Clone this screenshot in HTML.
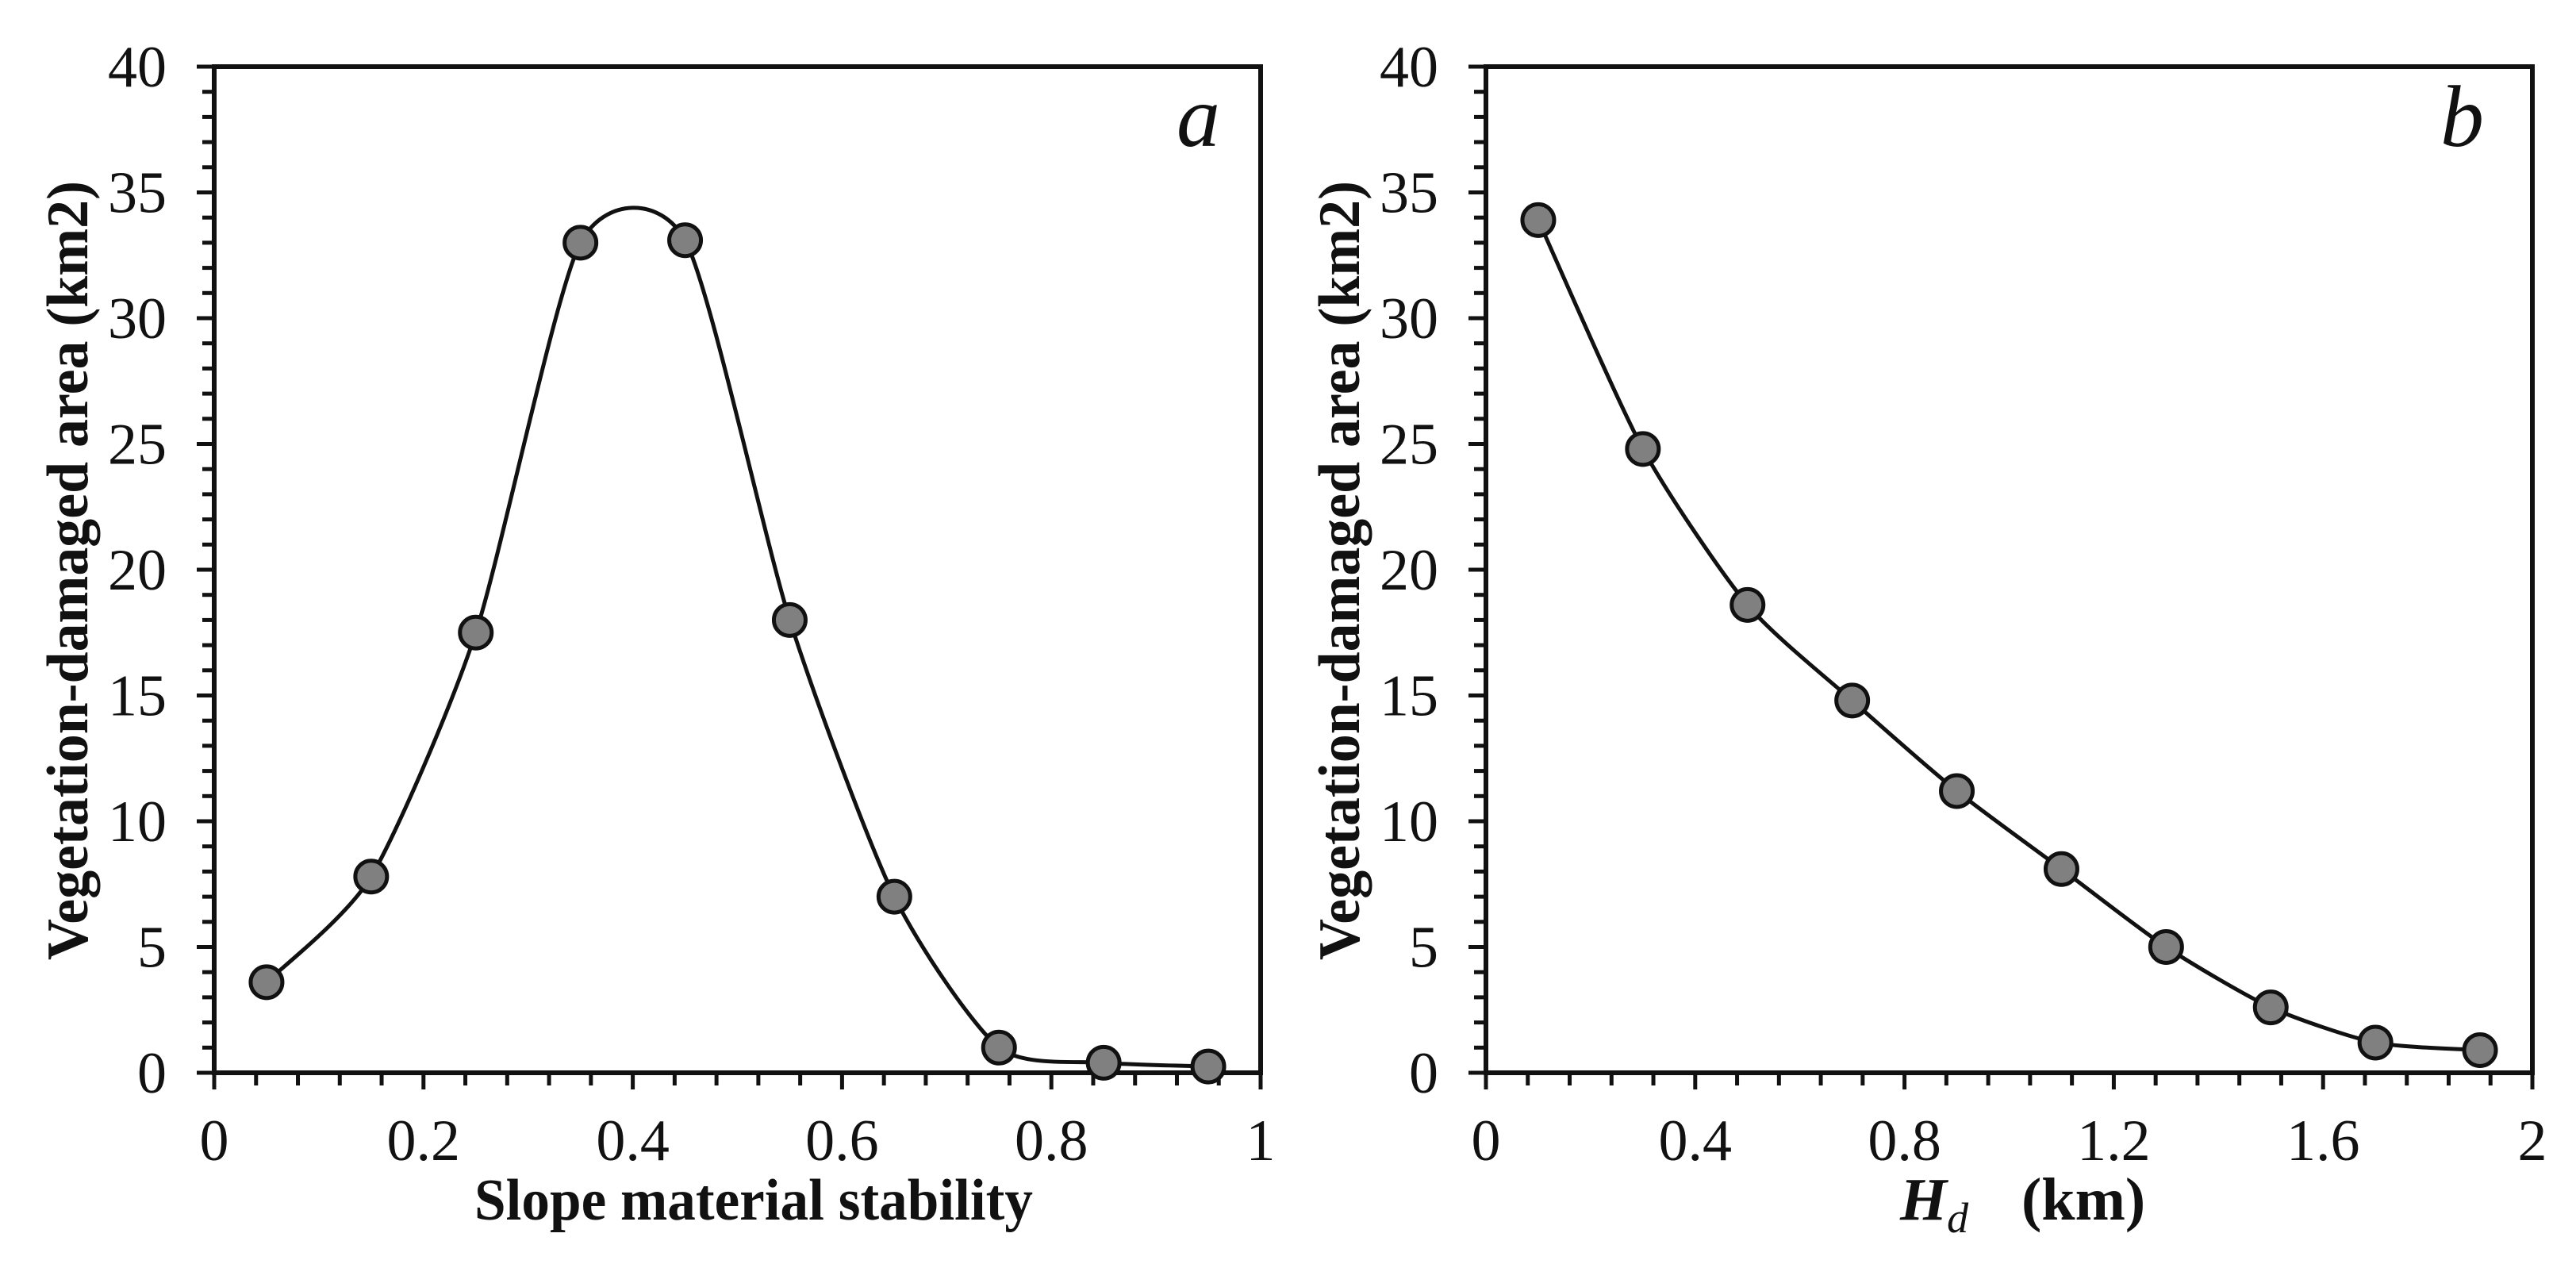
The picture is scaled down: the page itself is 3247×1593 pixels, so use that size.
<!DOCTYPE html>
<html><head><meta charset="utf-8"><style>
html,body{margin:0;padding:0;background:#fff;}
svg{display:block;}
text{font-family:"Liberation Serif",serif;fill:#111;}
</style></head><body>
<svg id="chart" width="3247" height="1593" viewBox="0 0 3247 1593" xmlns="http://www.w3.org/2000/svg"></svg>
<script>
const xsA = [0.05,0.15,0.25,0.35,0.45,0.55,0.65,0.75,0.85,0.95];
const ysA = [3.6,7.8,17.5,33.0,33.1,18.0,7.0,1.0,0.4,0.25];
const xsB = [0.1,0.3,0.5,0.7,0.9,1.1,1.3,1.5,1.7,1.9];
const ysB = [33.9,24.8,18.6,14.8,11.2,8.1,5.0,2.6,1.2,0.9];
const yTicks = [0,5,10,15,20,25,30,35,40];
const xTicksA = ["0","0.2","0.4","0.6","0.8","1"];
const xTicksB = ["0","0.4","0.8","1.2","1.6","2"];

const NS="http://www.w3.org/2000/svg";
const svg=document.getElementById('chart');
function mk(tag,attrs,parent){const e=document.createElementNS(NS,tag);for(const k in attrs)e.setAttribute(k,attrs[k]);(parent||svg).appendChild(e);return e;}

function panel(cfg){
  const g=mk('g',{});
  
  
  const L=cfg.left,R=cfg.right,T=84,B=1352;
  const sx=v=>L+(v-cfg.xmin)/(cfg.xmax-cfg.xmin)*(R-L);
  const sy=v=>B-v/40*(B-T);
  const fr=mk('rect',{x:L,y:T,width:R-L,height:B-T,fill:'none',stroke:'#111','stroke-width':6},g);
  
  
  for(let v=0;v<=40;v++){
    const major=v%5===0;
    const t=mk('line',{x1:L-(major?22:15),x2:L,y1:sy(v),y2:sy(v),stroke:'#111','stroke-width':5},g);
    
    
  }
  yTicks.forEach(v=>{
    const t=mk('text',{x:L-60,y:sy(v)+25,'text-anchor':'end','font-size':74},g);
    t.textContent=v;
    
    
  });
  const nMinor=Math.round((cfg.xmax-cfg.xmin)/cfg.minor);
  for(let i=0;i<=nMinor;i++){
    const v=cfg.xmin+i*cfg.minor;
    const major=i%5===0;
    const t=mk('line',{x1:sx(v),x2:sx(v),y1:B,y2:B+(major?21:16),stroke:'#111','stroke-width':5},g);
    
    
  }
  cfg.xlabels.forEach((s,i)=>{
    const v=cfg.xmin+i*(cfg.xmax-cfg.xmin)/(cfg.xlabels.length-1);
    const t=mk('text',{x:sx(v),y:1462,'text-anchor':'middle','font-size':74},g);
    t.textContent=s;
    
    
  });
  const yt=mk('text',{x:0,y:0,'text-anchor':'middle','font-size':74,'font-weight':'bold',transform:`translate(${L-160},719) rotate(-90)`,textLength:982,lengthAdjust:'spacingAndGlyphs'},g);
  yt.textContent='Vegetation-damaged  area (km2)';
  
  
  const P=cfg.xs.map((x,i)=>[sx(x),sy(cfg.ys[i])]);
  const k=0.7/6;
  let d=`M${P[0][0]},${P[0][1]}`;
  for(let i=0;i<P.length-1;i++){
    const p0=P[Math.max(i-1,0)],p1=P[i],p2=P[i+1],p3=P[Math.min(i+2,P.length-1)];
    const c1=[p1[0]+(p2[0]-p0[0])*k,p1[1]+(p2[1]-p0[1])*k];
    const c2=[p2[0]-(p3[0]-p1[0])*k,p2[1]-(p3[1]-p1[1])*k];
    d+=` C${c1[0]},${c1[1]} ${c2[0]},${c2[1]} ${p2[0]},${p2[1]}`;
  }
  const cv=mk('path',{d:d,fill:'none',stroke:'#111','stroke-width':5},g);
  
  
  P.forEach(p=>{
    const c=mk('circle',{cx:p[0],cy:p[1],r:20,fill:'#808080',stroke:'#111','stroke-width':5},g);
    
    
  });
  return {g,sx,sy};
}

panel({name:'panel-a',left:270,right:1589,xmin:0,xmax:1,minor:0.04,xs:xsA,ys:ysA,xlabels:xTicksA});
panel({name:'panel-b',left:1873,right:3192,xmin:0,xmax:2,minor:0.08,xs:xsB,ys:ysB,xlabels:xTicksB});

const xa=mk('text',{x:950,y:1537,'text-anchor':'middle','font-size':74,'font-weight':'bold',textLength:704,lengthAdjust:'spacingAndGlyphs'});
xa.textContent='Slope material stability';



const xb=mk('text',{x:2395,y:1537,'font-size':76,'font-weight':'bold'});


const h=mk('tspan',{'font-style':'italic'},xb);h.textContent='H';
const sub=mk('tspan',{'font-style':'italic','font-weight':'normal','font-size':54,dy:16},xb);sub.textContent='d';
const km=mk('tspan',{x:2548,dy:-16},xb);km.textContent='(km)';

const la=mk('text',{x:1483,y:184,'font-size':110,'font-style':'italic'});
la.textContent='a';


const lb=mk('text',{x:3076,y:184,'font-size':110,'font-style':'italic'});
lb.textContent='b';


</script>
</body></html>
